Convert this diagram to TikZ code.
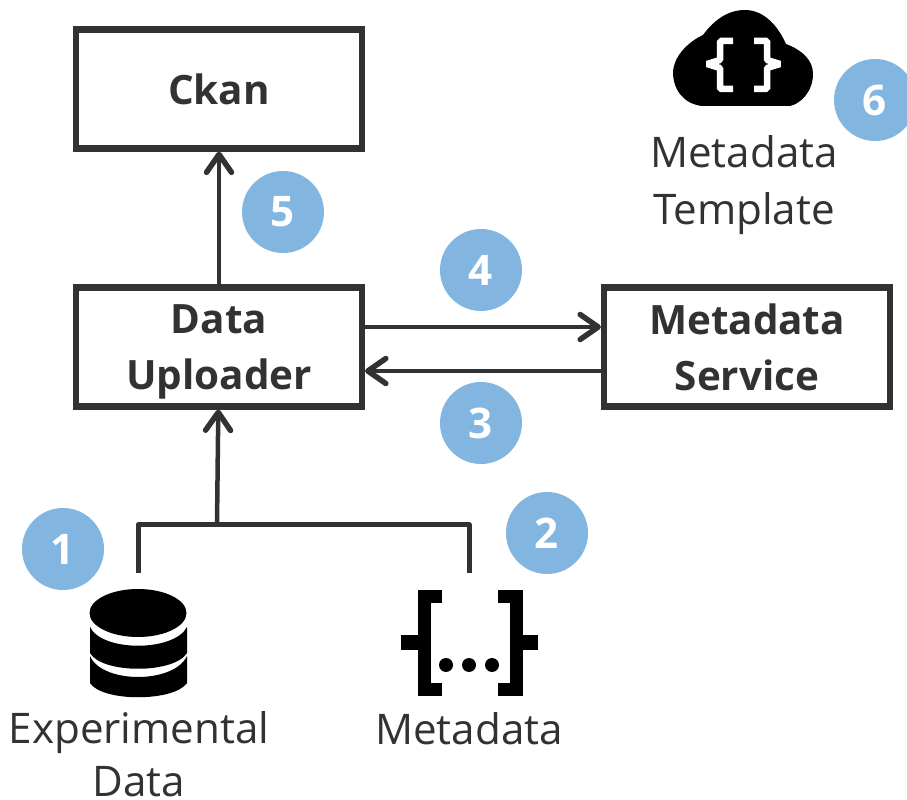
\documentclass[tikz,border=0pt]{standalone}
\usepackage{fontspec}
\setmainfont{Open Sans}
\usepackage{tikz}
\usetikzlibrary{arrows.meta}
\usetikzlibrary{positioning}

\definecolor{darkline}{RGB}{50,50,50}
\definecolor{stepblue}{RGB}{130,182,224}

\tikzset{
	box/.style={draw=darkline, line width=0.125cm, minimum width=5.72cm, minimum height=2.38cm, align=center, text=darkline, font=\fontsize{23}{32}\selectfont\bfseries, inner sep=0pt},
	caption/.style={align=center, text=darkline, font=\fontsize{24}{32}\selectfont, inner sep=0pt},
	stepdot/.style={circle, fill=stepblue, minimum size=1.64cm, inner sep=0pt, text=white, font=\fontsize{24}{30}\selectfont\bfseries},
	link/.style={draw=darkline, line width=0.09cm, -{Straight Barb[length=0.36cm,width=0.5cm,line width=0.11cm,round]}},
	bus/.style={draw=darkline, line width=0.1cm, line join=round}
}

\begin{document}
\begin{tikzpicture}[x=0.02cm,y=-0.02cm]
	
	\useasboundingbox (0,0) rectangle (907,800);
	
	\node[box] (ckan) at (219,89) {Ckan};
	\node[box] (uploader) at (219,347) {Data\\\smash{Uploader}};
	\node[box] (service) at (747,347) {Metadata\\Service};
	
	\node[stepdot] (five) at (283,212) {5};
	\node[stepdot] (four) at (481,270) {4};
	\node[stepdot] (three) at (481,423) {3};
	\node[stepdot] (one) at (63,549) {1};
	\node[stepdot] (two) at (547,533) {2};
	\node[stepdot] (six) at (875,100) {6};
	
	\node[caption] (template) at (744,185) {Metadata\\Template};
	\node[caption, font=\fontsize{24}{30.5}\selectfont] (expdata) at (139,754) {Experimental\\Data};
	\node[caption] (metadata) at (469,729) {Metadata};
	
	\coordinate (busjoin) at (217,525);
	\coordinate (dataend) at (138,573);
	\coordinate (metaend) at (469,573);
	
	\draw[link] (uploader) -- (ckan);
	\draw[link] ([yshift=0.4cm]uploader.east) -- ([yshift=0.4cm]service.west);
	\draw[link] ([yshift=-0.48cm]service.west) -- ([yshift=-0.48cm]uploader.east);
	\draw[link] (busjoin) -- (uploader);
	\draw[bus] (dataend) |- (metaend |- busjoin) -- (metaend);
	
	% database icon
	\fill (138,613) ellipse (48.5 and 24);
	\fill (90,627) .. controls (102,652) and (174,652) .. (187,627) -- (187,653) .. controls (174,674) and (102,674) .. (90,653) -- cycle;
	\fill (90,656) .. controls (102,684) and (174,684) .. (187,656) -- (187,683) .. controls (174,702) and (102,702) .. (90,683) -- cycle;
	
	% braces icon
	\draw[line width=0.26cm] (442,596.5) -| (424,689.5) -- (442,689.5);
	\fill (401,635) rectangle (424,650);
	\draw[line width=0.26cm] (498,596.5) -| (516,689.5) -- (498,689.5);
	\fill (516,635) rectangle (538,650);
	\fill (446,665) circle (7);
	\fill (469,665) circle (7);
	\fill (492,665) circle (7);
	
	% cloud icon
	\fill (702,106) .. controls (684,104) and (673,90) .. (673,72) .. controls (674,56) and (688,42) .. (703,35) .. controls (714,20) and (728,10) .. (745,10) .. controls (764,10) and (778,26) .. (786,44) .. controls (802,50) and (813,60) .. (813,74) .. controls (813,92) and (800,104) .. (790,106) -- cycle;
	\draw[white, line width=0.13cm, line join=bevel] (733,41) -- (720,41) -- (720,60) -- (707,64) -- (720,68) -- (720,89) -- (733,89);
	\draw[white, line width=0.13cm, line join=bevel] (754,41) -- (767,41) -- (767,60) -- (780,64) -- (767,68) -- (767,89) -- (754,89);
	
\end{tikzpicture}
\end{document}
